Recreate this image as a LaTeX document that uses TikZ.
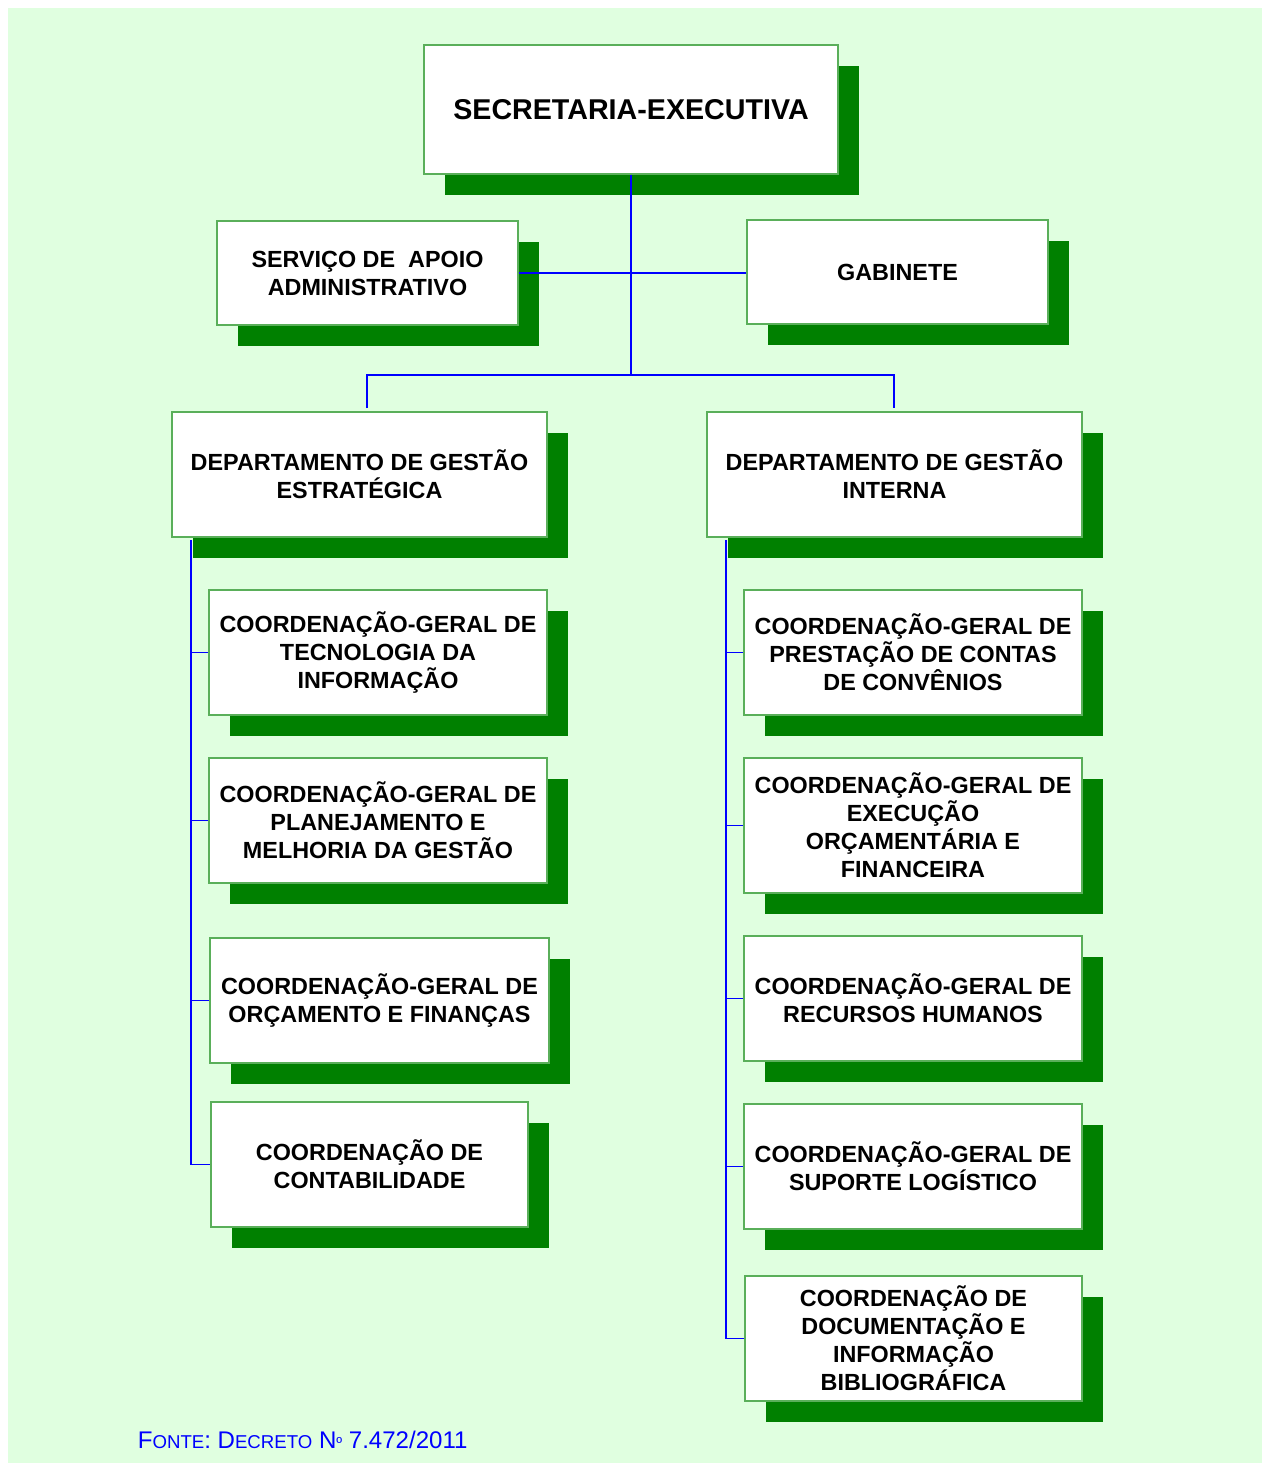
\documentclass[tikz,border=0pt]{standalone}
\usepackage{fontspec}
\setmainfont{Liberation Sans}
\usetikzlibrary{shadows}
\usepackage{xcolor}
\definecolor{bggreen}{RGB}{224,255,224}
\definecolor{shadowgreen}{RGB}{0,128,0}
\definecolor{edgegreen}{RGB}{90,175,90}

\begin{document}
\begin{tikzpicture}[x=0.02cm, y=-0.02cm, line width=1pt]

\tikzstyle{org_box} = [rectangle, draw=edgegreen, fill=white, line width=0.8pt, align=center, inner sep=0pt,
  minimum height=2.5cm, font=\bfseries\fontsize{13.3}{15.9}\selectfont,
  general shadow={fill=shadowgreen, shadow xshift=0.42cm, shadow yshift=-0.42cm}]
\tikzstyle{top_box} = [org_box, font=\bfseries\fontsize{16.3}{19}\selectfont]
\tikzstyle{link} = [draw=blue, line width=1.1pt]

% background
\useasboundingbox (0,0) rectangle (1262,1463);
\fill[bggreen] (8,8) rectangle (1262,1463);

\node (SE) [top_box, minimum width=8.28cm, minimum height=2.58cm] at (631,109.5) {SECRETARIA-EXECUTIVA};
\node (SAA) [org_box, minimum width=6.02cm, minimum height=2.08cm] at (367.5,273) {SERVIÇO DE \ APOIO\\ADMINISTRATIVO};
\node (GAB) [org_box, minimum width=6.02cm, minimum height=2.08cm] at (897.5,272) {GABINETE};

\node (DGE) [org_box, minimum width=7.5cm] at (359.5,474.5) {DEPARTAMENTO DE GESTÃO\\ESTRATÉGICA};
\node (DGI) [org_box, minimum width=7.5cm] at (894.5,474.5) {DEPARTAMENTO DE GESTÃO\\INTERNA};

\node (L1) [org_box, minimum width=6.76cm] at (378,652.5) {COORDENAÇÃO-GERAL DE\\TECNOLOGIA DA\\INFORMAÇÃO};
\node (L2) [org_box, minimum width=6.76cm] at (378,820.5) {COORDENAÇÃO-GERAL DE\\PLANEJAMENTO E\\MELHORIA DA GESTÃO};
\node (L3) [org_box, minimum width=6.78cm] at (379.5,1000.5) {COORDENAÇÃO-GERAL DE\\ORÇAMENTO E FINANÇAS};
\node (L4) [org_box, minimum width=6.34cm] at (369.5,1164.5) {COORDENAÇÃO DE\\CONTABILIDADE};

\node (R1) [org_box, minimum width=6.76cm] at (913,652.5) {COORDENAÇÃO-GERAL DE\\PRESTAÇÃO DE CONTAS\\DE CONVÊNIOS};
\node (R2) [org_box, minimum width=6.76cm, minimum height=2.7cm] at (913,825.5) {COORDENAÇÃO-GERAL DE\\EXECUÇÃO\\ORÇAMENTÁRIA E\\FINANCEIRA};
\node (R3) [org_box, minimum width=6.76cm] at (913,998.5) {COORDENAÇÃO-GERAL DE\\RECURSOS HUMANOS};
\node (R4) [org_box, minimum width=6.76cm] at (913,1166.5) {COORDENAÇÃO-GERAL DE\\SUPORTE LOGÍSTICO};
\node (R5) [org_box, minimum width=6.74cm] at (913.5,1338.5) {COORDENAÇÃO DE\\DOCUMENTAÇÃO E\\INFORMAÇÃO\\BIBLIOGRÁFICA};

\coordinate (hub) at (631,375);
\coordinate (ltop) at (367,408);
\coordinate (rtop) at (894,408);
\coordinate (ltrunk) at (191,540);
\coordinate (rtrunk) at (726,540);

\draw [link] (SE.south) -- (hub);
\draw [link] (SAA.east) -- (SAA.east -| GAB.west);
\draw [link] (ltop) |- (hub) -| (rtop);

\draw [link] (ltrunk) |- (L4.west);
\foreach \n in {L1,L2,L3}
  \draw [link] (ltrunk |- \n.west) -- (\n.west);
\draw [link] (rtrunk) |- (R5.west);
\foreach \n in {R1,R2,R3,R4}
  \draw [link] (rtrunk |- \n.west) -- (\n.west);

\node (src) [anchor=west, text=blue, inner sep=0pt] at (137,1440)
  {\fontsize{13.7}{16}\selectfont F{\fontsize{10.6}{12}\selectfont ONTE}: D{\fontsize{10.6}{12}\selectfont ECRETO} N{\fontsize{9}{12}\selectfont º} 7.472/2011};

\end{tikzpicture}
\end{document}
